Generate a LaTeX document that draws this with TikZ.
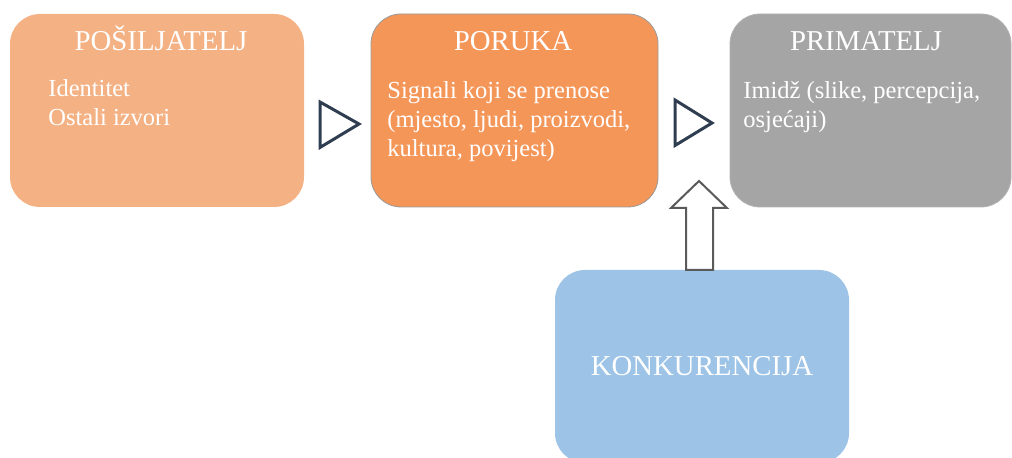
\documentclass[tikz,border=0pt]{standalone}
\usepackage{fontspec}
\setmainfont{Liberation Serif}
\newfontfamily\boxfont{Liberation Serif}
\definecolor{sendcol}{HTML}{F4B183}
\definecolor{msgcol}{HTML}{F59659}
\definecolor{recvcol}{HTML}{A5A5A5}
\definecolor{compcol}{HTML}{9DC3E6}
\definecolor{tricol}{HTML}{2F3D50}
\definecolor{arrcol}{HTML}{5A5A5A}
\begin{document}
\begin{tikzpicture}[x=0.5pt,y=-0.5pt,
        box/.style={rectangle,rounded corners=15pt,minimum height=96.5pt,inner sep=0pt,text=white,font=\boxfont\fontsize{14.4}{17}\selectfont},
        head/.style={text=white,font=\boxfont\fontsize{14.4}{17}\selectfont,anchor=base,inner sep=0pt},
        body/.style={text=white,font=\boxfont\fontsize{12.25}{14.5}\selectfont,align=left,anchor=north west,inner sep=0pt},
        tri/.style={draw=tricol,line width=1.5pt,line join=miter},
        hollow/.style={draw=arrcol,fill=white,line width=1pt,line join=miter}]
        \useasboundingbox (0,0) rectangle (1012,458);
        \node[box,fill=sendcol,minimum width=147pt] (posilj) at (157,110.5) {};
        \node[box,fill=msgcol,draw=gray!80,line width=0.4pt,minimum width=143.5pt] (poruka) at (514.5,110.5) {};
        \node[box,fill=recvcol,draw=gray!60,line width=0.4pt,minimum width=140.5pt] (primat) at (870.5,110.5) {};
        \node[box,fill=compcol,minimum width=147pt] (konk) at (702,366.5) {KONKURENCIJA};
        \node[head] (posiljT) at (161,51) {POŠILJATELJ};
        \node[head] (porukaT) at (513,51) {PORUKA};
        \node[head] (primatT) at (866,51) {PRIMATELJ};
        \node[body] (posiljB) at (48,79) {Identitet\\Ostali izvori};
        \node[body] (porukaB) at (387,81) {Signali koji se prenose\\(mjesto, ljudi, proizvodi,\\kultura, povijest)};
        \node[body] (primatB) at (743,81) {Imidž (slike, percepcija,\\osjećaji)};
        \draw[tri] (320,102) -- (359,124) -- (320,147.5) -- cycle;
        \draw[tri] (675,100) -- (712,123) -- (675,145.5) -- cycle;
        \coordinate (up) at (699,181);
        \draw[hollow] (686,270) -- (686,208) -- (671,208) -- (up) -- (727,208) -- (713,208) -- (713,270) -- cycle;
    \end{tikzpicture}
\end{document}
